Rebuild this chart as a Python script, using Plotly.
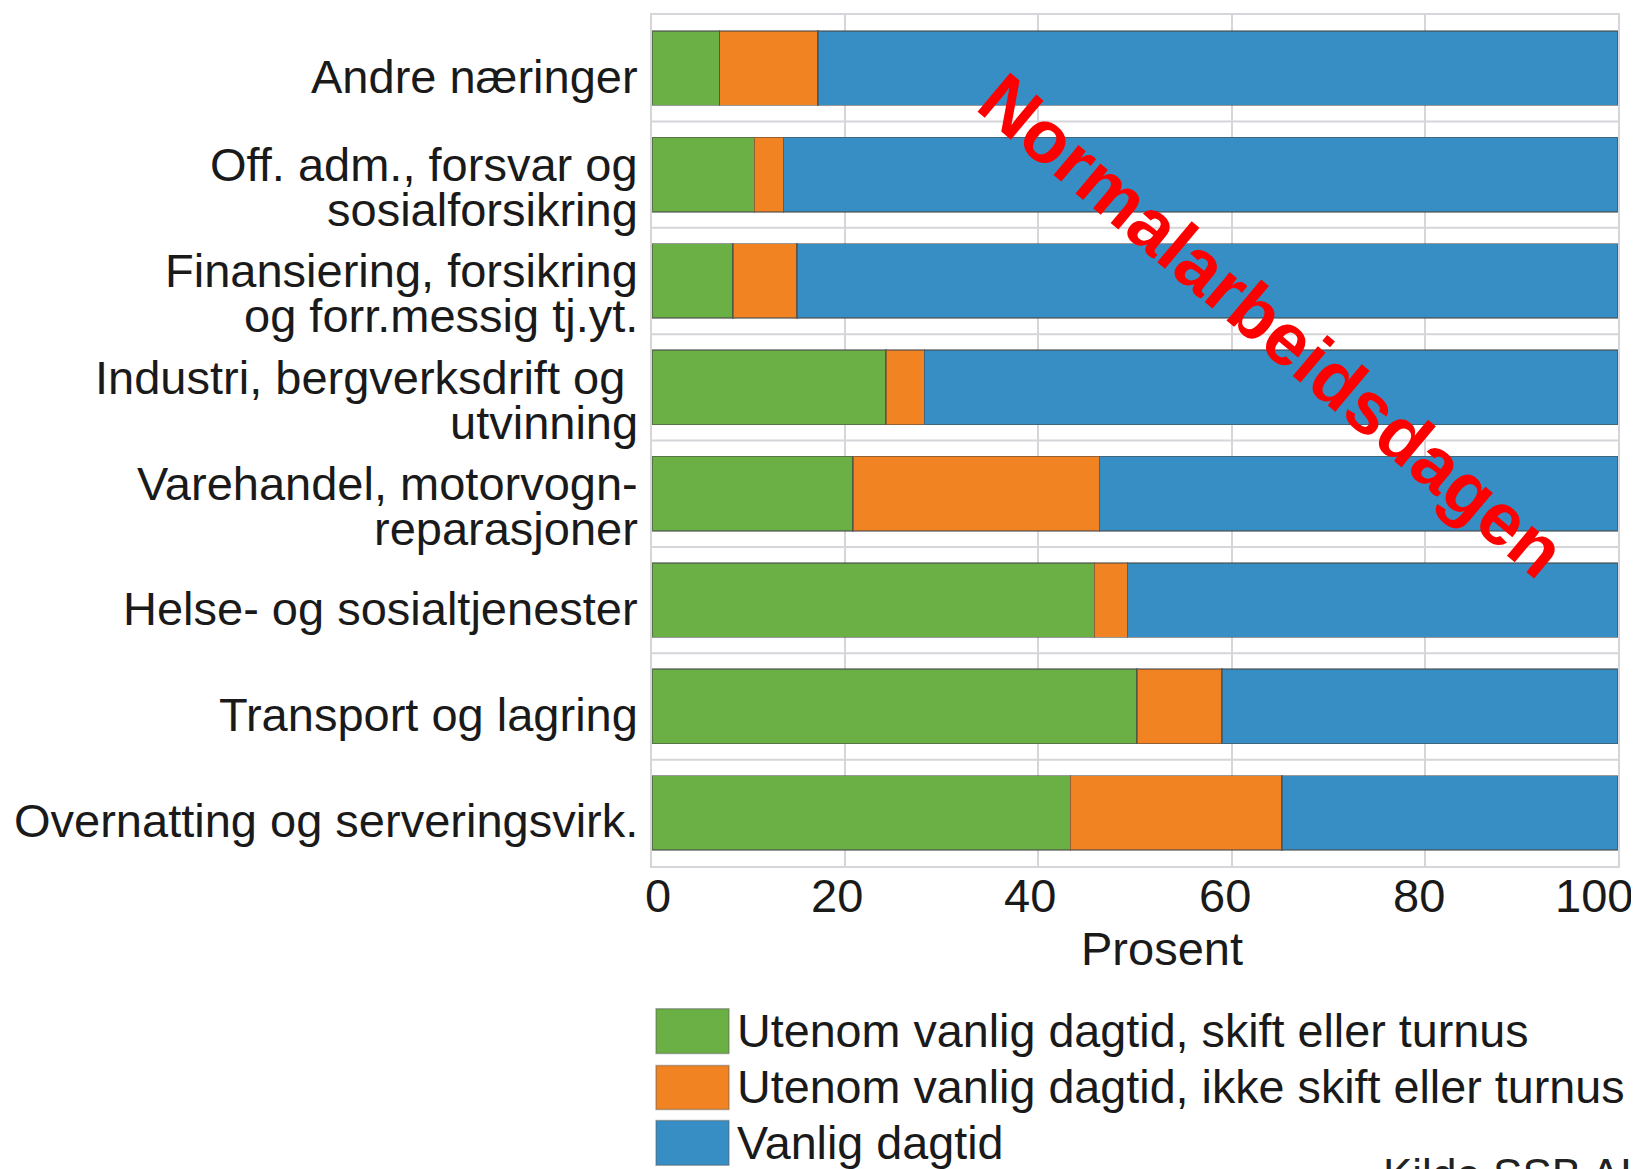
import plotly.graph_objects as go

# ---------------- data ----------------
categories = [
    "Andre næringer",
    "Off. adm., forsvar og<br>sosialforsikring",
    "Finansiering, forsikring<br>og forr.messig tj.yt.",
    "Industri, bergverksdrift og\u00a0<br>utvinning",
    "Varehandel, motorvogn-<br>reparasjoner",
    "Helse- og sosialtjenester",
    "Transport og lagring",
    "Overnatting og serveringsvirk.",
]
series_names = [
    "Utenom vanlig dagtid, skift eller turnus",
    "Utenom vanlig dagtid, ikke skift eller turnus",
    "Vanlig dagtid",
]
skift_turnus = [7.0, 10.6, 8.4, 24.2, 20.8, 45.8, 50.2, 43.3]
ikke_skift = [10.2, 3.0, 6.6, 4.0, 25.5, 3.4, 8.8, 21.9]
vanlig_dagtid = [82.8, 86.4, 85.0, 71.8, 53.7, 50.8, 41.0, 34.8]
x_ticks = [0, 20, 40, 60, 80, 100]
x_tick_labels = ["0", "20", "40", "60", "80", "100"]
x_title = "Prosent"
stamp_text = "Normalarbeidsdagen"
source_text = "Kilde SSB AKU"

# ---------------- style ----------------
colors = ["#6AB045", "#F28322", "#368EC4"]
FONT = "Liberation Sans, Arial, Helvetica, sans-serif"
FS = 47
FS_LEG = 46.7
TXT = "#1a1a1a"
GRID = "#d5d5da"
tick_xshifts = [6, -8, -8, -7, -6, -24]

# page geometry (page pixels); the html body has an 8px margin
OFF = 8
PAGE_W, PAGE_H = 1639, 1169
W, H = PAGE_W - OFF, PAGE_H - OFF
P_LEFT, P_RIGHT, P_TOP, P_BOTTOM = 652, 1618, 13, 866
ML = P_LEFT - OFF
MR = W - (P_RIGHT - OFF)
MT = P_TOP - OFF
MB = H - (P_BOTTOM - OFF)


def px(p):
    return (p - P_LEFT) / (P_RIGHT - P_LEFT)


def py(p):
    return (P_BOTTOM - p) / (P_BOTTOM - P_TOP)


fig = go.Figure()
for name, vals, col in zip(series_names, [skift_turnus, ikke_skift, vanlig_dagtid], colors):
    fig.add_trace(go.Bar(
        y=categories, x=vals, name=name, orientation="h",
        marker=dict(color=col, line=dict(color="rgba(70,70,70,0.55)", width=1.5)),
        width=0.70, showlegend=False,
    ))

shapes = []
for k in range(len(categories) - 1):
    shapes.append(dict(type="line", xref="paper", yref="y", x0=0, x1=1,
                       y0=k + 0.5, y1=k + 0.5, line=dict(color=GRID, width=2), layer="below"))

annotations = []
# category labels
for i, cat in enumerate(categories):
    lines = cat.split("<br>")
    shifts = [-8] if len(lines) == 1 else [10, -35]
    for line, ys in zip(lines, shifts):
        annotations.append(dict(
            x=0, xref="paper", y=i, yref="y", text=line, showarrow=False,
            xanchor="right", yanchor="middle", xshift=-12, yshift=ys,
            font=dict(family=FONT, size=FS, color=TXT),
        ))

# x tick labels
for v, lab, xs in zip(x_ticks, x_tick_labels, tick_xshifts):
    annotations.append(dict(
        x=v, xref="x", y=py(896), yref="paper", text=lab, showarrow=False,
        xanchor="center", yanchor="middle", xshift=xs,
        font=dict(family=FONT, size=FS, color=TXT),
    ))

# axis title
annotations.append(dict(
    x=px(1162), xref="paper", y=py(949), yref="paper", text=x_title, showarrow=False,
    xanchor="center", yanchor="middle", font=dict(family=FONT, size=FS, color=TXT),
))

# legend drawn manually
leg_x0, leg_x1 = 656, 729
leg_rows = [(1009, 1054), (1066, 1110), (1121, 1166)]
for name, col, (y0, y1) in zip(series_names, colors, leg_rows):
    shapes.append(dict(type="rect", xref="paper", yref="paper",
                       x0=px(leg_x0), x1=px(leg_x1), y0=py(y1), y1=py(y0),
                       fillcolor=col, line=dict(color="rgba(90,90,90,0.45)", width=1.5)))
    annotations.append(dict(
        x=px(735), xref="paper", y=py((y0 + y1) / 2), yref="paper",
        text=name, showarrow=False, xanchor="left", yanchor="middle",
        font=dict(family=FONT, size=FS_LEG, color=TXT),
    ))

# red stamp text
annotations.append(dict(
    x=0.642, xref="paper", y=0.635, yref="paper", text="<b>" + stamp_text + "</b>",
    showarrow=False, textangle=40, xanchor="center", yanchor="middle",
    font=dict(family=FONT, size=74, color="#FF0000"),
))

# partially cut source text and logo edge
annotations.append(dict(
    x=px(1381), xref="paper", y=py(1149), yref="paper",
    text=source_text, showarrow=False, xanchor="left", yanchor="top",
    font=dict(family=FONT, size=44, color="#222222"),
))
shapes.append(dict(type="rect", xref="paper", yref="paper",
                   x0=px(1633), x1=px(1645), y0=py(1180), y1=py(1107),
                   fillcolor="#1E9BD7", line=dict(width=0)))

fig.update_layout(
    width=W, height=H,
    margin=dict(l=ML, r=MR, t=MT, b=MB, pad=0),
    barmode="stack",
    paper_bgcolor="white", plot_bgcolor="white",
    font=dict(family=FONT, size=FS, color=TXT),
    shapes=shapes, annotations=annotations,
    xaxis=dict(
        range=[0, 100], tickvals=x_ticks, showticklabels=False, ticks="",
        showgrid=True, gridcolor=GRID, gridwidth=2,
        showline=True, linecolor=GRID, linewidth=2, mirror=True, zeroline=False,
        fixedrange=True,
    ),
    yaxis=dict(
        categoryorder="array", categoryarray=categories, autorange="reversed",
        showticklabels=False, ticks="", showgrid=False, zeroline=False,
        showline=True, linecolor=GRID, linewidth=2, mirror=True,
        fixedrange=True,
    ),
)

fig.write_html("out.html")
